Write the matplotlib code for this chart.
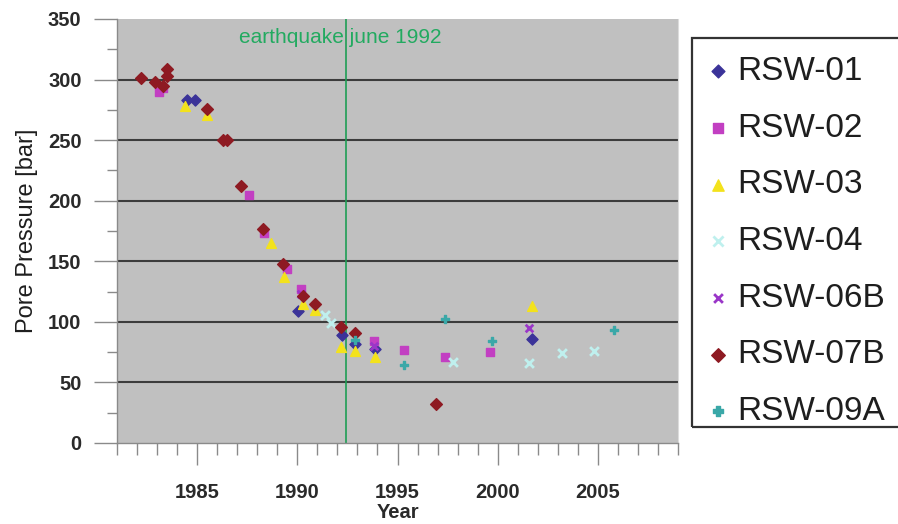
import matplotlib
matplotlib.use("Agg")
import matplotlib.pyplot as plt
from matplotlib.ticker import MultipleLocator
from matplotlib.patches import Rectangle

plt.rcParams['font.family'] = ['Liberation Sans', 'DejaVu Sans']

# ---- data (year, pore pressure in bar) ----
rsw01_year = [1984.5, 1984.9, 1990.05, 1992.25, 1992.9, 1993.9, 2001.7]
rsw01_bar = [283, 283, 109, 89, 82, 78, 86]

rsw02_year = [1983.1, 1983.3, 1987.6, 1988.35, 1989.5, 1990.2, 1993.85, 1995.3, 1997.35, 1999.6]
rsw02_bar = [290, 293, 205, 173, 144, 127, 84, 77, 71, 75]

rsw03_year = [1984.4, 1985.5, 1988.7, 1989.35, 1990.3, 1990.9, 1992.2, 1992.9, 1993.9, 2001.7]
rsw03_bar = [278, 271, 165, 137, 115, 110, 79, 76, 71, 113]

rsw04_year = [1991.4, 1991.7, 1997.75, 2001.55, 2003.2, 2004.8]
rsw04_bar = [106, 99, 67, 66, 74, 76]

rsw06b_year = [1990.2, 1993.85, 2001.55]
rsw06b_bar = [123, 80, 95]

rsw07b_year = [1982.2, 1982.9, 1983.3, 1983.5, 1983.5, 1985.5, 1986.3, 1986.5, 1987.2,
               1988.3, 1989.3, 1990.3, 1990.9, 1992.2, 1992.9, 1996.9]
rsw07b_bar = [301, 298, 295, 303, 309, 276, 250, 250, 212, 177, 148, 121, 115, 96, 91, 32]

rsw09a_year = [1992.9, 1995.3, 1997.35, 1999.7, 2005.8]
rsw09a_bar = [85, 64, 102, 84, 93]

series_names = ['RSW-01', 'RSW-02', 'RSW-03', 'RSW-04', 'RSW-06B', 'RSW-07B', 'RSW-09A']
earthquake_year = 1992.45
earthquake_label = 'earthquake june 1992'
x_ticks = [1985, 1990, 1995, 2000, 2005]
y_ticks = [0, 50, 100, 150, 200, 250, 300, 350]

# ---- styles ----
styles = [
    dict(marker='D', color='#3b3399', s=32),
    dict(marker='s', color='#c23fc2', s=40),
    dict(marker='^', color='#f3e21c', s=50),
    dict(marker='x', color='#bff0ee', s=40, linewidths=2),
    dict(marker='x', color='#9a36c8', s=30, linewidths=2),
    dict(marker='D', color='#8e1a22', s=36),
    dict(marker='P', color='#3aa8a8', s=34),
]
series = [
    (rsw01_year, rsw01_bar), (rsw02_year, rsw02_bar), (rsw03_year, rsw03_bar),
    (rsw04_year, rsw04_bar), (rsw06b_year, rsw06b_bar), (rsw07b_year, rsw07b_bar),
    (rsw09a_year, rsw09a_bar),
]

W, H = 898, 524
fig = plt.figure(figsize=(W / 100, H / 100), dpi=100)
ax = fig.add_axes([117 / W, 81 / H, 561 / W, 424 / H])
ax.set_facecolor('#c0c0c0')

ax.set_xlim(1981, 2009)
ax.set_ylim(0, 350)

for y in y_ticks[1:-1]:
    ax.axhline(y, color='#3c3c3c', lw=1.5, zorder=1)

ax.axvline(earthquake_year, color='#1f9e55', lw=1.2, zorder=2)
ax.text(1987.1, 335, earthquake_label, color='#22aa60', fontsize=15,
        ha='left', va='center', zorder=3)

handles = []
for (xs, ys), name, st in zip(series, series_names, styles):
    h = ax.scatter(xs, ys, label=name, zorder=4, **st)
    handles.append(h)

ax.set_xticks(x_ticks)
ax.set_yticks(y_ticks)
ax.xaxis.set_minor_locator(MultipleLocator(1))
ax.yaxis.set_minor_locator(MultipleLocator(25))
ax.tick_params(axis='both', which='major', direction='out', color='#8a8a8a', width=1,
               labelsize=14.5, labelcolor='#2a2a2a')
ax.tick_params(axis='x', which='major', length=16, pad=13)
ax.tick_params(axis='y', which='major', length=16.5, pad=9)
ax.tick_params(axis='x', which='minor', length=8.5, color='#8a8a8a', width=1)
ax.tick_params(axis='y', which='minor', length=7, color='#8a8a8a', width=1)
for lab in ax.get_xticklabels() + ax.get_yticklabels():
    lab.set_fontweight('bold')

for side in ['left', 'bottom']:
    ax.spines[side].set_color('#8a8a8a')
    ax.spines[side].set_linewidth(1)
ax.spines['top'].set_visible(False)
ax.spines['right'].set_color('#dcdcdc')

ax.set_ylabel('Pore Pressure [bar]', fontsize=17, color='#1e1e1e', labelpad=7)
fig.text(398 / W, 1 - 518 / H, 'Year', ha='center', va='baseline',
         fontsize=14.5, fontweight='bold', color='#2a2a2a')

# legend frame
fig.patches.append(Rectangle((692 / W, 1 - 427 / H), 220 / W, 389 / H,
                             transform=fig.transFigure, fill=False,
                             edgecolor='#333333', lw=1.6))
leg = fig.legend(handles=handles, loc='upper left',
                 bbox_to_anchor=(709 / W, 1 - 56 / H), frameon=False,
                 fontsize=24, borderpad=0, borderaxespad=0,
                 handlelength=0.55, handletextpad=0.3, labelspacing=0.77,
                 scatterpoints=1, labelcolor='#1e1e1e', markerscale=1.15)

fig.savefig('out.png', dpi=100)
